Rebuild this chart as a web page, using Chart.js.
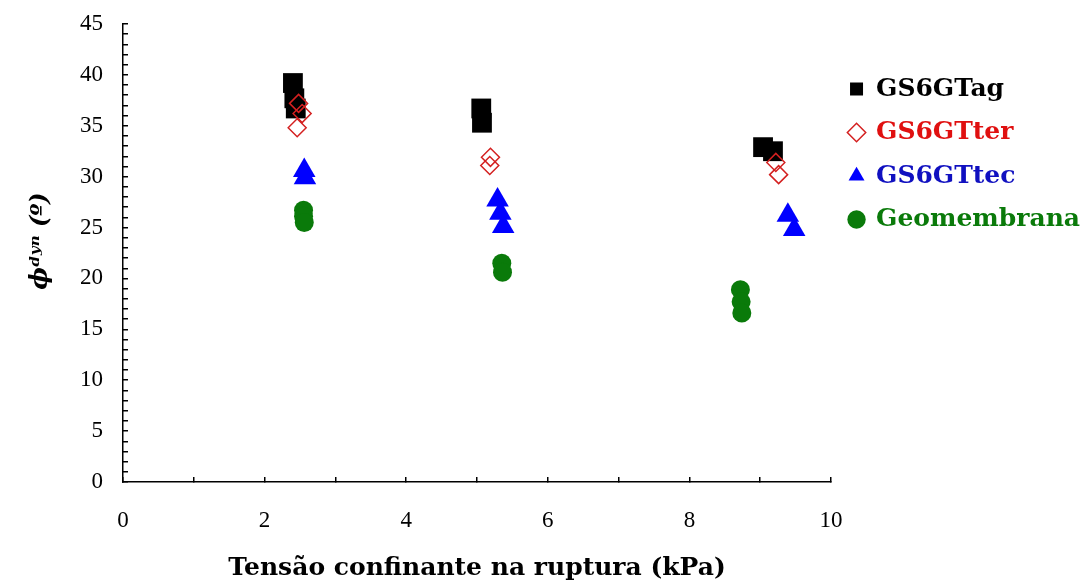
<!DOCTYPE html>
<html>
<head>
<meta charset="utf-8">
<script src="https://cdn.jsdelivr.net/npm/chart.js@4/dist/chart.umd.min.js"></script>
<style>
  html, body { margin: 0; padding: 0; background: #fff; }
  #wrap { width: 1092px; height: 587px; }
</style>
</head>
<body>
<div id="wrap"><canvas id="chart"></canvas></div>
<script>
// values
const seriesNames = ['GS6GTag', 'GS6GTter', 'GS6GTtec', 'Geomembrana'];

const agX = [2.4, 2.42, 2.44, 5.06, 5.07, 9.04, 9.18];
const agY = [39.2, 37.7, 36.7, 36.7, 35.3, 32.9, 32.5];

const terX = [2.48, 2.53, 2.46, 5.19, 5.18, 9.22, 9.26];
const terY = [37.2, 36.2, 34.8, 31.9, 31.1, 31.4, 30.2];

const tecX = [2.56, 2.57, 5.29, 5.33, 5.37, 9.39, 9.48];
const tecY = [30.6, 29.9, 27.7, 26.4, 25.1, 26.2, 24.8];

const geoX = [2.55, 2.55, 2.56, 5.35, 5.36, 8.72, 8.73, 8.74];
const geoY = [26.7, 26.1, 25.5, 21.5, 20.6, 18.9, 17.7, 16.6];

const xTicksMin = 0, xTicksMax = 10;
const yTicksMin = 0, yTicksMax = 45;

function pts(xs, ys) {
    return xs.map((x, i) => ({ x: x, y: ys[i] }));
}

const legendColors = ['#000000', '#e01010', '#1010c0', '#0a7a0a'];

new Chart(document.getElementById('chart'), {
    type: 'scatter',
    data: {
        datasets: [
            {
                label: seriesNames[0],
                data: pts(agX, agY),
                pointStyle: 'rect',
                pointRadius: 14,
                backgroundColor: '#000000',
                borderColor: '#000000',
                borderWidth: 0,
                order: 2
            },
            {
                label: seriesNames[1],
                data: pts(terX, terY),
                pointStyle: 'rectRot',
                pointRadius: 9,
                backgroundColor: 'rgba(255,255,255,0)',
                borderColor: '#d42020',
                borderWidth: 1.5,
                order: 1
            },
            {
                label: seriesNames[2],
                data: pts(tecX, tecY),
                pointStyle: 'triangle',
                pointRadius: 13,
                backgroundColor: '#0000ff',
                borderColor: '#0000ff',
                borderWidth: 0,
                order: 0
            },
            {
                label: seriesNames[3],
                data: pts(geoX, geoY),
                pointStyle: 'circle',
                pointRadius: 9.5,
                backgroundColor: '#0a7a0a',
                borderColor: '#0a7a0a',
                borderWidth: 0,
                order: 0
            }
        ]
    },
    options: {
        responsive: true,
        maintainAspectRatio: false,
        animation: false,
        layout: { padding: { top: 24, left: 0, right: 2, bottom: 0 } },
        plugins: {
            tooltip: { enabled: false },
            legend: {
                position: 'right',
                align: 'start',
                title: { display: true, text: ' ', font: { size: 10 }, padding: { top: 0, bottom: 22 } },
                labels: {
                    usePointStyle: true,
                    boxWidth: 14,
                    boxHeight: 13,
                    padding: 18.5,
                    font: { family: 'DejaVu Serif', size: 25, weight: 'bold' },
                    sort: (a, b) => a.datasetIndex - b.datasetIndex,
                    generateLabels: function (chart) {
                        const items = Chart.defaults.plugins.legend.labels.generateLabels(chart);
                        items.forEach(it => { it.fontColor = legendColors[it.datasetIndex]; });
                        return items;
                    }
                }
            }
        },
        scales: {
            x: {
                type: 'linear',
                min: xTicksMin,
                max: xTicksMax,
                border: { display: true, color: '#000', width: 1.5 },
                grid: { drawOnChartArea: false, drawTicks: true, tickLength: -5, color: '#000', lineWidth: 1.5 },
                ticks: {
                    stepSize: 1,
                    autoSkip: false,
                    maxRotation: 0,
                    padding: 30,
                    color: '#000',
                    font: { family: 'Liberation Serif', size: 23 },
                    callback: v => (v % 2 === 0 ? String(v) : '')
                },
                title: {
                    display: true,
                    text: 'Tensão confinante na ruptura (kPa)',
                    color: '#000',
                    font: { family: 'DejaVu Serif', size: 25, weight: 'bold' },
                    padding: { top: 8, bottom: 4 }
                },
                afterFit: s => { s.height = 105; }
            },
            y: {
                type: 'linear',
                min: yTicksMin,
                max: yTicksMax,
                border: { display: true, color: '#000', width: 1.5 },
                grid: { drawOnChartArea: false, drawTicks: true, tickLength: -5, color: '#000', lineWidth: 1.5 },
                ticks: {
                    stepSize: 1,
                    autoSkip: false,
                    padding: 25,
                    color: '#000',
                    font: { family: 'Liberation Serif', size: 23 },
                    callback: v => (v % 5 === 0 ? String(v) : '')
                },
                title: {
                    display: true,
                    text: '\u2002\u2002ϕᵈʸⁿ (º)',
                    color: '#000',
                    font: { family: 'DejaVu Serif', size: 24, weight: 'bold', style: 'italic' },
                    padding: { top: 26, bottom: 0 }
                },
                afterFit: s => { s.width = 123; s.paddingTop = 0; s.paddingBottom = 0; }
            }
        }
    }
});
</script>
</body>
</html>
